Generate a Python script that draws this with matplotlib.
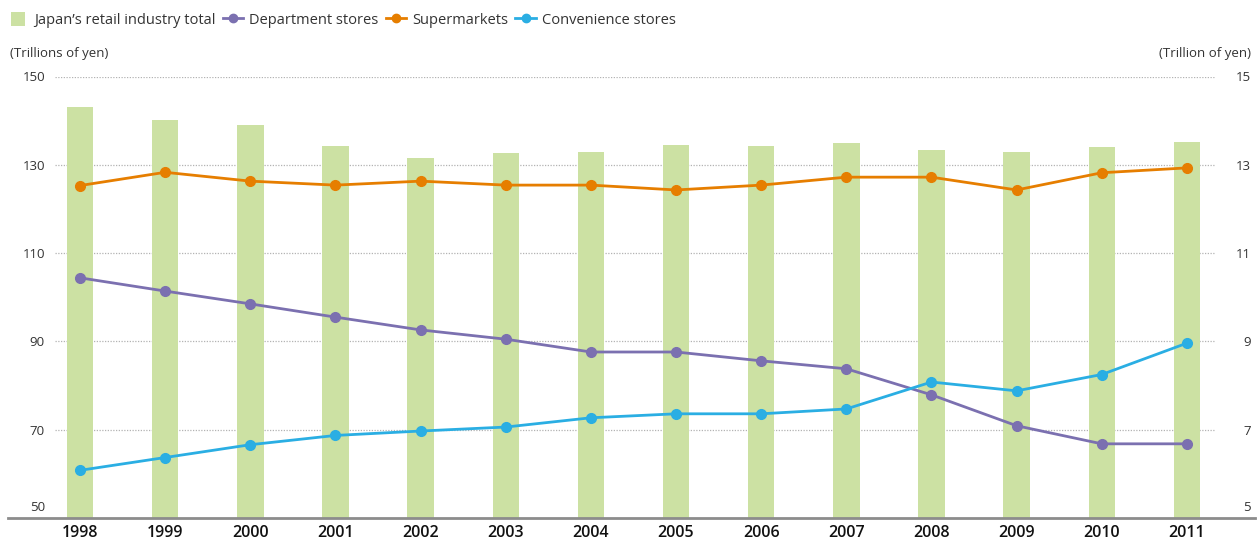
import matplotlib
matplotlib.use("Agg")
import matplotlib.pyplot as plt
import matplotlib.transforms as mtransforms
from matplotlib.lines import Line2D
from matplotlib.patches import Patch, Rectangle
from matplotlib.legend_handler import HandlerPatch
import numpy as np

years = ["1998", "1999", "2000", "2001", "2002", "2003", "2004",
         "2005", "2006", "2007", "2008", "2009", "2010", "2011"]
retail_total = [143.1, 140.1, 139.0, 134.3, 131.5, 132.7, 132.9,
                134.5, 134.3, 134.9, 133.3, 132.9, 134.0, 135.2]
department = [10.44, 10.14, 9.85, 9.55, 9.26, 9.05, 8.76,
              8.76, 8.56, 8.38, 7.79, 7.09, 6.68, 6.68]
supermarkets = [12.53, 12.83, 12.63, 12.54, 12.63, 12.54, 12.54,
                12.43, 12.54, 12.72, 12.72, 12.43, 12.82, 12.93]
convenience = [6.08, 6.37, 6.66, 6.87, 6.97, 7.06, 7.27,
               7.36, 7.36, 7.47, 8.08, 7.88, 8.25, 8.96]
left_ticks = [50, 70, 90, 110, 130, 150]
right_ticks = [5, 7, 9, 11, 13, 15]

FONT = "Open Sans"
plt.rcParams['font.family'] = [FONT, 'DejaVu Sans']

C_BAR = "#cce1a3"
C_DEP = "#7b70b0"
C_SUP = "#e67e00"
C_CON = "#2aaee3"
C_TXT = "#333333"

W, H = 1259, 544
fig = plt.figure(figsize=(W / 100, H / 100), dpi=100)
ax_l, ax_r = 8 / W, 1255 / W
ax_b, ax_t = (H - 518) / H, (H - 76.5) / H
ax = fig.add_axes([ax_l, ax_b, ax_r - ax_l, ax_t - ax_b])

x = np.arange(len(years))
ax.set_xlim(-0.846, 13.80)
ax.set_ylim(50, 150)

# grid lines (dotted)
for t in left_ticks[1:]:
    ax.hlines(t, -0.29, 13.33, colors="#b3b3b3", linestyles=(0, (1, 1.2)),
              linewidth=0.9, zorder=1)

ax.bar(x, retail_total, width=0.31, bottom=0, color=C_BAR, zorder=2)

ax2 = ax.twinx()
ax2.set_ylim(5, 15)
lw, ms = 2.0, 7
ax2.plot(x, department, color=C_DEP, lw=lw, marker="o", ms=ms, zorder=3)
ax2.plot(x, supermarkets, color=C_SUP, lw=lw, marker="o", ms=ms, zorder=3)
ax2.plot(x, convenience, color=C_CON, lw=lw, marker="o", ms=ms, zorder=3)

for a in (ax, ax2):
    for s in ("top", "left", "right"):
        a.spines[s].set_visible(False)
    a.set_yticks([])
    a.tick_params(axis="both", length=0)
ax2.spines["bottom"].set_visible(False)
ax.spines["bottom"].set_color("#8c8c8c")
ax.spines["bottom"].set_linewidth(2.0)

ax.set_xticks(x)
ax.set_xticklabels(years, fontsize=11.5, color="#111111", fontweight=600)
ax.tick_params(axis="x", pad=5)

# y tick labels
tl = mtransforms.blended_transform_factory(ax.transAxes, ax.transData)
for t in left_ticks:
    va = "bottom" if t == 50 else "center"
    yy = t + 0.8 if t == 50 else t - 0.3
    ax.text(37 / (ax_r - ax_l) / W, yy, str(t), transform=tl, ha="right",
            va=va, fontsize=9.5, color=C_TXT)
tr = mtransforms.blended_transform_factory(ax2.transAxes, ax2.transData)
for t in right_ticks:
    va = "bottom" if t == 5 else "center"
    yy = t + 0.08 if t == 5 else t - 0.03
    ax2.text((1251 - 8) / (ax_r - ax_l) / W, yy, str(t), transform=tr,
             ha="right", va=va, fontsize=9.5, color=C_TXT)

fig.text(10 / W, 1 - 54 / H, "(Trillions of yen)", ha="left", va="center",
         fontsize=9.5, color=C_TXT)
fig.text(1251 / W, 1 - 54 / H, "(Trillion of yen)", ha="right", va="center",
         fontsize=9.5, color=C_TXT)


def square_patch(legend, orig_handle, xdescent, ydescent, width, height,
                 fontsize):
    side = height * 1.1
    return Rectangle((-xdescent + (width - side) / 2,
                      -ydescent + (height - side) / 2), side, side)


handles = [
    Patch(facecolor=C_BAR, edgecolor="none"),
    Line2D([0], [0], color=C_DEP, lw=lw, marker="o", ms=6),
    Line2D([0], [0], color=C_SUP, lw=lw, marker="o", ms=6),
    Line2D([0], [0], color=C_CON, lw=lw, marker="o", ms=6),
]
labels = ["Japan’s retail industry total", "Department stores",
          "Supermarkets", "Convenience stores"]
fig.legend(handles, labels, loc="center left",
           bbox_to_anchor=(8 / W, 1 - 20 / H), ncol=4, frameon=False,
           fontsize=10.5, handlelength=1.4, handleheight=1.0,
           handletextpad=0.4, columnspacing=0.5, borderaxespad=0,
           borderpad=0, labelcolor=C_TXT,
           handler_map={Patch: HandlerPatch(patch_func=square_patch)})

fig.savefig("out.png", dpi=100)
